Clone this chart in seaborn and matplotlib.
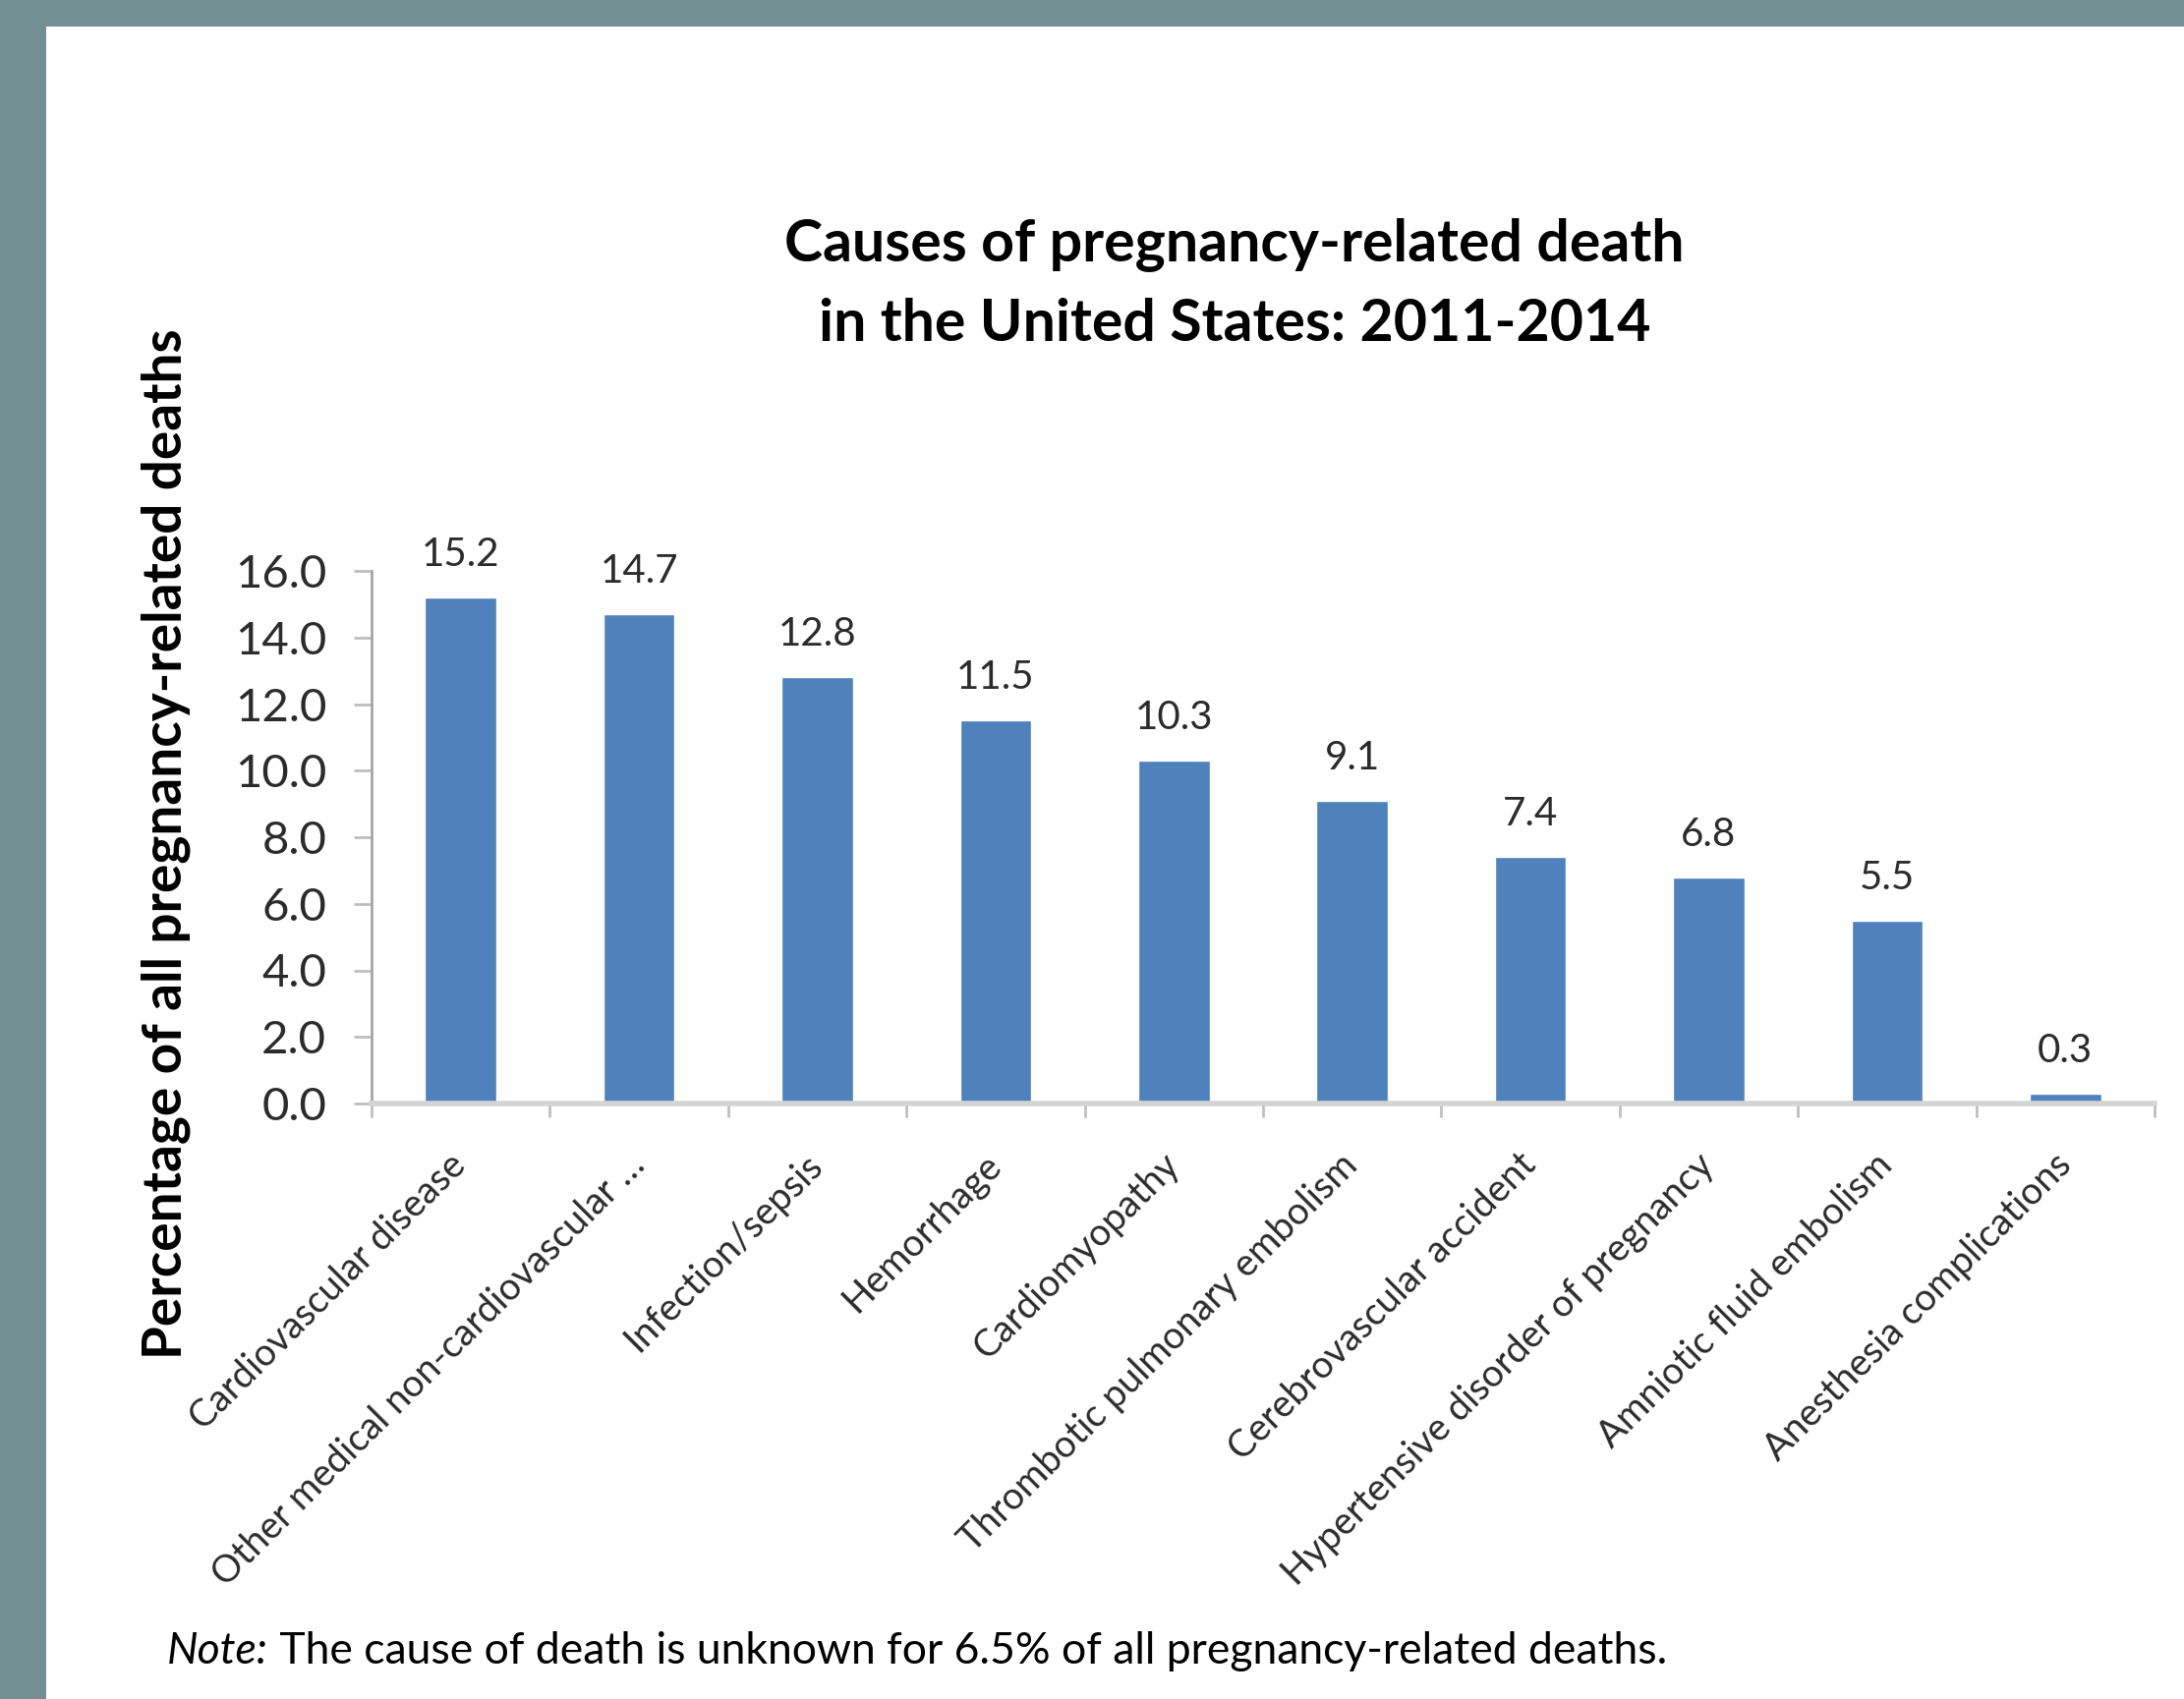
import matplotlib
matplotlib.use("Agg")
import matplotlib.pyplot as plt
import seaborn as sns
import pandas as pd
from matplotlib.patches import Rectangle
from matplotlib.ticker import FixedLocator

# ---- data ----
categories = [
    "Cardiovascular disease",
    "Other medical non-cardiovascular \u2026",
    "Infection/sepsis",
    "Hemorrhage",
    "Cardiomyopathy",
    "Thrombotic pulmonary embolism",
    "Cerebrovascular accident",
    "Hypertensive disorder of pregnancy",
    "Amniotic fluid embolism",
    "Anesthesia complications",
]
values = [15.2, 14.7, 12.8, 11.5, 10.3, 9.1, 7.4, 6.8, 5.5, 0.3]
y_ticks = [0, 2, 4, 6, 8, 10, 12, 14, 16]
title_lines = ["Causes of pregnancy-related death", "in the United States: 2011-2014"]
y_label = "Percentage of all pregnancy-related deaths"
note_lead = "Note:"
note_rest = " The cause of death is unknown for 6.5% of all pregnancy-related deaths."

df = pd.DataFrame({"cause": categories, "pct": values})

# ---- style ----
sns.set_theme(style="white")
plt.rcParams["font.family"] = ["Lato", "DejaVu Sans"]

W, H = 2222, 1729
fig = plt.figure(figsize=(W / 100, H / 100), dpi=100, facecolor="#748F93")
fig.patches.append(Rectangle((47 / W, 0), 1, 1 - 27 / H, transform=fig.transFigure,
                             facecolor="white", edgecolor="none", zorder=-10))

x0, x1 = 378, 2192
y0, ytop = 1123, 581
ax = fig.add_axes([x0 / W, 1 - y0 / H, (x1 - x0) / W, (y0 - ytop) / H])
ax.set_facecolor("white")

sns.barplot(data=df, x="cause", y="pct", color="#4F81BD", saturation=1,
            width=0.4, ax=ax)
ax.set_xlim(-0.5, len(categories) - 0.5)
ax.set_ylim(0, 16)
ax.set_yticks(y_ticks)
ax.set_yticklabels([f"{t:.1f}" for t in y_ticks])
ax.set_xlabel("")
ax.set_ylabel("")

for c in ax.containers:
    ax.bar_label(c, fmt="%.1f", padding=18, fontsize=29, color="#2b2b2b")

# spines
for s in ["top", "right"]:
    ax.spines[s].set_visible(False)
ax.spines["left"].set_color("#A6A6A6")
ax.spines["left"].set_linewidth(2)
ax.spines["bottom"].set_color("#D4D4D4")
ax.spines["bottom"].set_linewidth(4)

# ticks
ax.tick_params(axis="y", which="major", direction="out", length=13, width=2,
               color="#BFBFBF", labelsize=34, labelcolor="#2b2b2b", pad=20, left=True)
ax.xaxis.set_minor_locator(FixedLocator([i - 0.5 for i in range(len(categories) + 1)]))
ax.tick_params(axis="x", which="minor", direction="out", length=10, width=2,
               color="#BFBFBF", bottom=True)
ax.tick_params(axis="x", which="major", length=0, labelsize=27.5,
               labelcolor="#2b2b2b", pad=41)
plt.setp(ax.get_xticklabels(), rotation=45, ha="right", va="center",
         rotation_mode="anchor")

# title
fig.text(1256 / W, 1 - 266 / H, title_lines[0], ha="center", va="baseline",
         fontsize=42.5, fontweight="bold", color="black")
fig.text(1256 / W, 1 - 347 / H, title_lines[1], ha="center", va="baseline",
         fontsize=42.5, fontweight="bold", color="black")

# y label
fig.text(169 / W, 1 - 859 / H, y_label, rotation=90, ha="center", va="center",
         fontsize=39.5, fontweight="bold", color="black")

# note
t1 = fig.text(170 / W, 1 - 1693 / H, note_lead, ha="left", va="baseline",
              fontsize=32, fontstyle="italic", color="black")
fig.canvas.draw()
bb = t1.get_window_extent()
fig.text(bb.x1 / W, 1 - 1693 / H, note_rest, ha="left", va="baseline",
         fontsize=32, color="black")

fig.savefig("out.png", dpi=100, facecolor=fig.get_facecolor())
